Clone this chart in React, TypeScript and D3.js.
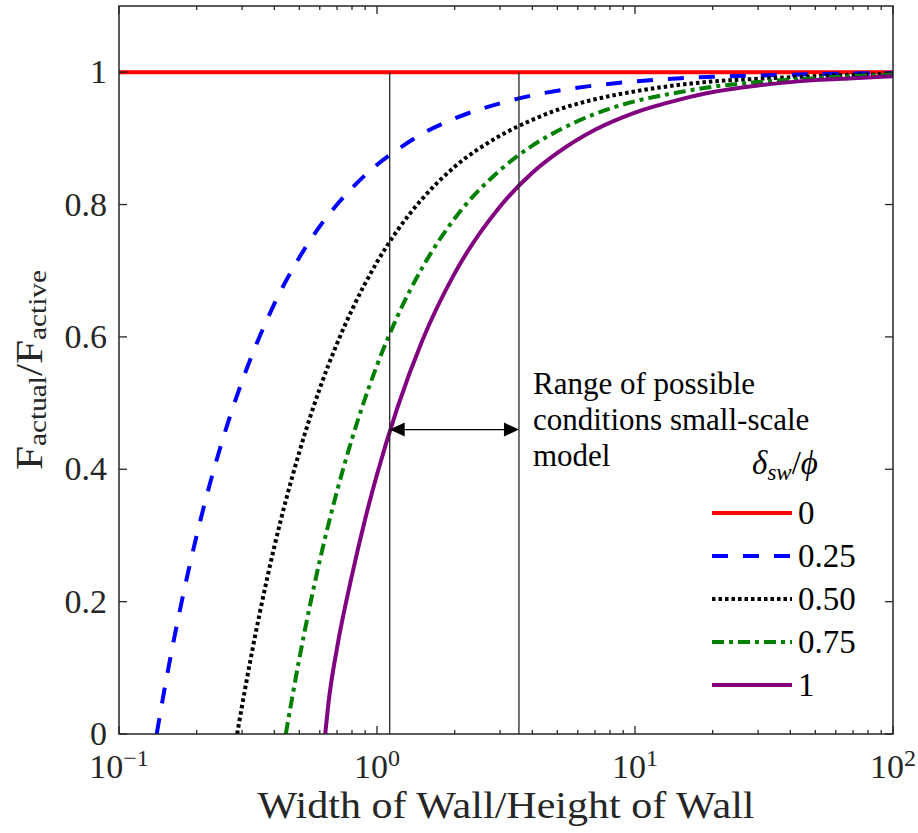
import * as d3 from 'd3';

// values
const seriesNames = ['0', '0.25', '0.50', '0.75', '1'];

const redX = [0.1, 100];
const redY = [1, 1];

const blueX = [0.14, 0.15, 0.175, 0.2, 0.25, 0.3, 0.4, 0.5, 0.6, 0.7, 0.8, 1, 1.2, 1.5, 2, 3, 4, 5, 7, 10, 15, 20, 30, 50, 70, 100];
const blueY = [0, 0.067, 0.2, 0.3, 0.44, 0.533, 0.65, 0.72, 0.767, 0.8, 0.825, 0.86, 0.883, 0.907, 0.93, 0.953, 0.965, 0.972, 0.98, 0.986, 0.991, 0.993, 0.995, 0.997, 0.998, 0.9986];

const blackX = [0.287, 0.3, 0.35, 0.4, 0.5, 0.6, 0.7, 0.8, 1, 1.2, 1.5, 2, 3, 4, 5, 7, 10, 15, 20, 30, 50, 70, 100];
const blackY = [0, 0.043, 0.18, 0.283, 0.426, 0.522, 0.59, 0.641, 0.713, 0.761, 0.809, 0.857, 0.904, 0.928, 0.943, 0.959, 0.971, 0.981, 0.986, 0.99, 0.994, 0.996, 0.997];

const greenX = [0.443, 0.5, 0.6, 0.7, 0.8, 1, 1.2, 1.5, 2, 3, 4, 5, 7, 10, 15, 20, 30, 50, 70, 100];
const greenY = [0, 0.114, 0.262, 0.367, 0.446, 0.557, 0.631, 0.705, 0.779, 0.852, 0.889, 0.911, 0.937, 0.956, 0.97, 0.978, 0.985, 0.991, 0.994, 0.996];

const purpleX = [0.63, 0.65, 0.7, 0.8, 0.9, 1, 1.2, 1.5, 2, 3, 4, 5, 7, 10, 15, 20, 30, 50, 70, 100];
const purpleY = [0, 0.05, 0.13, 0.24, 0.325, 0.392, 0.493, 0.595, 0.696, 0.797, 0.848, 0.878, 0.913, 0.939, 0.959, 0.97, 0.98, 0.988, 0.991, 0.994];

const xTicks = [0.1, 1, 10, 100];
const xTickExp = ['\u22121', '0', '1', '2'];
const yTicks = [0, 0.2, 0.4, 0.6, 0.8, 1];
const yTickLabels = ['0', '0.2', '0.4', '0.6', '0.8', '1'];

const rangeBounds = [1.12, 3.55];
const arrowLevel = 0.46;
const noteLines = ['Range of possible', 'conditions small-scale', 'model'];

const W = 918;
const H = 833;
const m = { left: 119, right: 893, top: 6, bottom: 734 };
const serif = "'Liberation Serif', 'Times New Roman', serif";

const styles = [
  { color: '#ff0000', dash: undefined as string | undefined },
  { color: '#0000ff', dash: '16 15' },
  { color: '#000000', dash: '3.5 3' },
  { color: '#008000', dash: '12 5 4 5' },
  { color: '#800080', dash: undefined as string | undefined },
];

export default function App() {
  const x = d3.scaleLog().domain([0.1, 100]).range([m.left, m.right]);
  const y = d3.scaleLinear().domain([0, 1.1]).range([m.bottom, m.top]);

  const series = [
    d3.zip(redX, redY),
    d3.zip(blueX, blueY),
    d3.zip(blackX, blackY),
    d3.zip(greenX, greenY),
    d3.zip(purpleX, purpleY),
  ];

  const line = d3
    .line<number[]>()
    .x(d => x(d[0]))
    .y(d => y(d[1]))
    .curve(d3.curveMonotoneX);

  const minorTicks: number[] = [];
  [0.1, 1, 10].forEach(dec => {
    for (let k = 2; k <= 9; k++) minorTicks.push(dec * k);
  });

  const frame = '#262626';
  const ax0 = x(rangeBounds[0]);
  const ax1 = x(rangeBounds[1]);
  const ay = y(arrowLevel);
  const head = 15;
  const hw = 7;

  const legX0 = 712;
  const legX1 = 792;
  const legY0 = 513;
  const legStep = 43;

  const txt = { fontFamily: serif };

  return (
    <svg
      width={W}
      height={H}
      style={{ position: 'absolute', left: 0, top: 0, background: '#fff', fontFamily: serif }}
    >
      <defs>
        <clipPath id="plot">
          <rect x={m.left} y={m.top} width={m.right - m.left} height={m.bottom - m.top} />
        </clipPath>
      </defs>
      <rect width={W} height={H} fill="#fff" />

      {/* curves */}
      <g clipPath="url(#plot)">
        {series.map((s, i) => (
          <path
            key={i}
            d={line(s) || ''}
            fill="none"
            stroke={styles[i].color}
            strokeWidth={4}
            strokeDasharray={styles[i].dash}
          />
        ))}
      </g>

      {/* range lines and arrow */}
      {rangeBounds.map((b, i) => (
        <line key={i} x1={x(b)} x2={x(b)} y1={y(0)} y2={y(1)} stroke="#262626" strokeWidth={1.3} />
      ))}
      <line x1={ax0 + head} x2={ax1 - head} y1={ay} y2={ay} stroke="#000" strokeWidth={1.3} />
      <polygon points={`${ax0},${ay} ${ax0 + head},${ay - hw} ${ax0 + head},${ay + hw}`} fill="#000" />
      <polygon points={`${ax1},${ay} ${ax1 - head},${ay - hw} ${ax1 - head},${ay + hw}`} fill="#000" />
      <text x={533} y={394} fontSize={31} fill="#000" style={txt}>
        {noteLines.map((t, i) => (
          <tspan key={i} x={533} dy={i === 0 ? 0 : 36}>
            {t}
          </tspan>
        ))}
      </text>

      {/* frame and ticks */}
      <rect
        x={m.left}
        y={m.top}
        width={m.right - m.left}
        height={m.bottom - m.top}
        fill="none"
        stroke={frame}
        strokeWidth={1.5}
      />
      {xTicks.map(t => (
        <g key={'xt' + t}>
          <line x1={x(t)} x2={x(t)} y1={m.bottom} y2={m.bottom - 8} stroke={frame} strokeWidth={1.3} />
          <line x1={x(t)} x2={x(t)} y1={m.top} y2={m.top + 8} stroke={frame} strokeWidth={1.3} />
        </g>
      ))}
      {minorTicks.map(t => (
        <g key={'xm' + t}>
          <line x1={x(t)} x2={x(t)} y1={m.bottom} y2={m.bottom - 4} stroke={frame} strokeWidth={1.3} />
          <line x1={x(t)} x2={x(t)} y1={m.top} y2={m.top + 4} stroke={frame} strokeWidth={1.3} />
        </g>
      ))}
      {yTicks.map(t => (
        <g key={'yt' + t}>
          <line x1={m.left} x2={m.left + 8} y1={y(t)} y2={y(t)} stroke={frame} strokeWidth={1.3} />
          <line x1={m.right} x2={m.right - 8} y1={y(t)} y2={y(t)} stroke={frame} strokeWidth={1.3} />
        </g>
      ))}

      {/* tick labels */}
      {yTicks.map((t, i) => (
        <text key={'yl' + t} x={107} y={y(t) + 11} textAnchor="end" fontSize={34} fill="#262626" style={txt}>
          {yTickLabels[i]}
        </text>
      ))}
      {xTicks.map((t, i) => (
        <text key={'xl' + t} x={x(t)} y={778} textAnchor="middle" fontSize={34} fill="#262626" style={txt}>
          10
          <tspan fontSize={24} dy={-12}>
            {xTickExp[i]}
          </tspan>
        </text>
      ))}

      {/* axis labels */}
      <text
        x={(m.left + m.right) / 2}
        y={818}
        textAnchor="middle"
        fontSize={37}
        fill="#262626"
        textLength={497}
        lengthAdjust="spacingAndGlyphs"
        style={txt}
      >
        Width of Wall/Height of Wall
      </text>
      <text
        transform={`translate(42,${(m.top + m.bottom) / 2}) rotate(-90)`}
        textAnchor="middle"
        fontSize={37}
        fill="#262626"
        textLength={200}
        lengthAdjust="spacingAndGlyphs"
        style={txt}
      >
        F
        <tspan fontSize={25} dy={4}>
          actual
        </tspan>
        <tspan dy={-4}>/F</tspan>
        <tspan fontSize={25} dy={4}>
          active
        </tspan>
      </text>

      {/* legend */}
      <text x={785} y={474} textAnchor="middle" fontSize={33} fontStyle="italic" fill="#000" style={txt}>
        δ
        <tspan fontSize={23} dy={6}>
          sw
        </tspan>
        <tspan dy={-6} fontStyle="normal">
          /
        </tspan>
        <tspan>ϕ</tspan>
      </text>
      {seriesNames.map((name, i) => {
        const ly = legY0 + i * legStep;
        return (
          <g key={'lg' + name}>
            <line
              x1={legX0}
              x2={legX1}
              y1={ly}
              y2={ly}
              stroke={styles[i].color}
              strokeWidth={4}
              strokeDasharray={styles[i].dash}
            />
            <text x={798} y={ly + 11} fontSize={33} fill="#000" style={txt}>
              {name}
            </text>
          </g>
        );
      })}
    </svg>
  );
}
